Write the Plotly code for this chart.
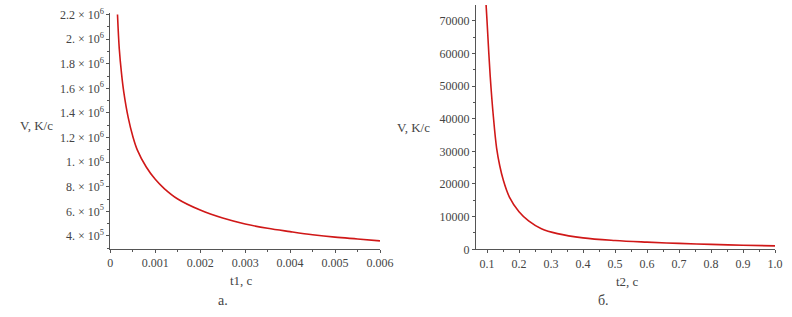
import plotly.graph_objects as go

# ---- data ----
t1 = [0.00016, 0.0002, 0.00025, 0.0003, 0.0004, 0.0005, 0.0006, 0.0008, 0.001, 0.0012,
      0.0015, 0.002, 0.0025, 0.003, 0.0035, 0.004, 0.0045, 0.005, 0.0055, 0.006]
V1 = [2.2e6, 1.92e6, 1.72e6, 1.57e6, 1.36e6, 1.21e6, 1.1e6, 9.6e5, 8.6e5, 7.85e5,
      7.0e5, 6.1e5, 5.45e5, 4.97e5, 4.62e5, 4.35e5, 4.1e5, 3.9e5, 3.75e5, 3.6e5]

t2 = [0.097, 0.1, 0.11, 0.12, 0.13, 0.14, 0.15, 0.17, 0.2, 0.23, 0.27, 0.32,
      0.4, 0.5, 0.6, 0.7, 0.8, 0.9, 1.0]
V2 = [75000, 70000, 53000, 40500, 31000, 25500, 21500, 16000, 11500, 8700, 6300, 4800,
      3500, 2700, 2200, 1800, 1500, 1250, 1050]

y1_ticks = [4e5, 6e5, 8e5, 1e6, 1.2e6, 1.4e6, 1.6e6, 1.8e6, 2.0e6, 2.2e6]
y1_text = ["4. × 10<sup>5</sup>", "6. × 10<sup>5</sup>", "8. × 10<sup>5</sup>",
           "1. × 10<sup>6</sup>", "1.2 × 10<sup>6</sup>", "1.4 × 10<sup>6</sup>",
           "1.6 × 10<sup>6</sup>", "1.8 × 10<sup>6</sup>", "2. × 10<sup>6</sup>",
           "2.2 × 10<sup>6</sup>"]
x1_ticks = [0, 0.001, 0.002, 0.003, 0.004, 0.005, 0.006]
x1_text = ["0", "0.001", "0.002", "0.003", "0.004", "0.005", "0.006"]
y2_ticks = [0, 10000, 20000, 30000, 40000, 50000, 60000, 70000]
y2_text = ["0", "10000", "20000", "30000", "40000", "50000", "60000", "70000"]
x2_ticks = [0.1, 0.2, 0.3, 0.4, 0.5, 0.6, 0.7, 0.8, 0.9, 1.0]
x2_text = ["0.1", "0.2", "0.3", "0.4", "0.5", "0.6", "0.7", "0.8", "0.9", "1.0"]

W, H = 792, 317
FONT = "Liberation Serif, Times New Roman, DejaVu Serif, serif"
TXT = "#444444"
AX = "#555555"
RED = "#d01818"

def px(x):
    return x / W

def py(y):
    return 1 - y / H

fig = go.Figure()
fig.add_trace(go.Scatter(x=t1, y=V1, mode="lines", line=dict(color=RED, width=1.6, shape="spline"),
                         xaxis="x", yaxis="y", showlegend=False, cliponaxis=True))
fig.add_trace(go.Scatter(x=t2, y=V2, mode="lines", line=dict(color=RED, width=1.6, shape="spline"),
                         xaxis="x2", yaxis="y2", showlegend=False, cliponaxis=True))

common = dict(showline=True, linecolor=AX, linewidth=1, ticks="outside", ticklen=3,
              tickcolor=AX, showgrid=False, zeroline=False, automargin=False,
              tickfont=dict(family=FONT, size=12, color=TXT))

fig.update_layout(
    width=W, height=H, autosize=False, margin=dict(l=0, r=0, t=0, b=0, pad=0),
    paper_bgcolor="white", plot_bgcolor="white",
    font=dict(family=FONT, size=12, color=TXT),
    xaxis=dict(domain=[px(110.3), px(380)], range=[0, 0.006], anchor="y",
               tickvals=x1_ticks, ticktext=x1_text,
               minor=dict(ticks="outside", ticklen=2, dtick=0.0005, tickcolor=AX), **common),
    yaxis=dict(domain=[py(248.7), py(13.3)], range=[2.96e5, 2.21e6], anchor="x",
               tickvals=y1_ticks, ticktext=y1_text,
               minor=dict(ticks="outside", ticklen=2, dtick=1e5, tickcolor=AX), **common),
    xaxis2=dict(domain=[px(476), px(775)], range=[0.0656, 1.0], anchor="y2",
                tickvals=x2_ticks, ticktext=x2_text,
                minor=dict(ticks="outside", ticklen=2, dtick=0.05, tickcolor=AX), **common),
    yaxis2=dict(domain=[py(249.3), py(5)], range=[0, 74800], anchor="x2",
                tickvals=y2_ticks, ticktext=y2_text,
                minor=dict(ticks="outside", ticklen=2, dtick=5000, tickcolor=AX), **common),
)

def ann(text, x, y, size=13):
    fig.add_annotation(text=text, x=px(x), y=py(y), xref="paper", yref="paper",
                       showarrow=False, xanchor="center", yanchor="middle",
                       font=dict(family=FONT, size=size, color=TXT))

ann("V, K/c", 36, 126)
ann("V, K/c", 413, 128)
ann("t1, c", 241, 280)
ann("t2, c", 627, 281)
ann("а.", 223, 300, 14)
ann("б.", 603, 300, 14)

fig.write_html("out.html",
               config={"displayModeBar": False, "staticPlot": True},
               post_script="document.body.style.margin='0';document.body.style.overflow='hidden';")
